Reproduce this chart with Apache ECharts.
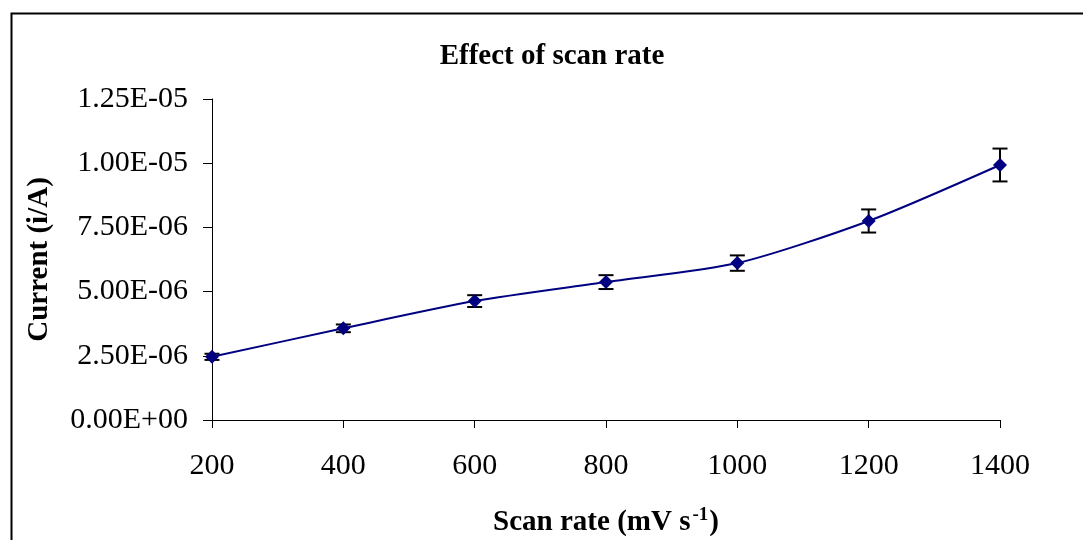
<!DOCTYPE html>
<html>
<head>
<meta charset="utf-8">
<title>Effect of scan rate</title>
<script src="https://cdn.jsdelivr.net/npm/echarts@6/dist/echarts.min.js"></script>
<style>
  html, body { margin: 0; padding: 0; background: #fff; }
  #chart { width: 1083px; height: 540px; }
</style>
</head>
<body>
<div id="chart"></div>
<script>
// Scan rate (mV s^-1) against peak current (A) with standard deviation
const scanRates = [200, 400, 600, 800, 1000, 1200, 1400];
const currents = [2.46e-6, 3.57e-6, 4.63e-6, 5.37e-6, 6.11e-6, 7.75e-6, 9.93e-6];
const errors = [0.12e-6, 0.15e-6, 0.23e-6, 0.27e-6, 0.30e-6, 0.45e-6, 0.64e-6];

const FONT = '"Liberation Serif", "Times New Roman", serif';
const NAVY = '#000080';

// Excel-style scientific label, e.g. 1.25E-05
function sciLabel(v) {
  if (Math.abs(v) < 1e-15) return '0.00E+00';
  const parts = v.toExponential(2).split('e');
  const exp = parseInt(parts[1], 10);
  const sign = exp < 0 ? '-' : '+';
  const mag = String(Math.abs(exp)).padStart(2, '0');
  return parts[0] + 'E' + sign + mag;
}

const chart = echarts.init(document.getElementById('chart'));

const errorData = scanRates.map((x, i) => [x, currents[i], errors[i]]);
const lineData = scanRates.map((x, i) => [x, currents[i]]);

chart.setOption({
  animation: false,
  backgroundColor: '#fff',
  textStyle: { fontFamily: FONT },
  graphic: [
    {
      type: 'rect',
      left: 9, top: 11,
      shape: { width: 1200, height: 700 },
      style: { fill: 'none', stroke: '#000', lineWidth: 2 },
      silent: true
    },
    {
      type: 'text',
      x: 552, y: 42,
      style: {
        text: 'Effect of scan rate',
        font: 'bold 29px ' + FONT,
        fill: '#000',
        textAlign: 'center',
        textVerticalAlign: 'top'
      }
    }
  ],
  grid: { left: 212, right: 83, top: 99, bottom: 120, containLabel: false, outerBoundsMode: 'none' },
  xAxis: {
    type: 'value',
    min: 200, max: 1400, interval: 200,
    name: '{b|Scan rate (mV s}{sup|-1}{b|)}',
    nameLocation: 'middle',
    nameGap: 86,
    nameTextStyle: {
      rich: {
        b: { fontFamily: FONT, fontWeight: 'bold', fontSize: 29, color: '#000', lineHeight: 34 },
        sup: { fontFamily: FONT, fontWeight: 'bold', fontSize: 19, color: '#000', lineHeight: 34, verticalAlign: 'top', padding: [0, 1, 0, 2] }
      }
    },
    axisLine: { show: true, lineStyle: { color: '#000', width: 1 } },
    axisTick: { show: true, inside: false, length: 8, lineStyle: { color: '#000' } },
    axisLabel: { color: '#000', fontSize: 30, fontFamily: FONT, margin: 31, formatter: v => String(v) },
    splitLine: { show: false }
  },
  yAxis: {
    type: 'value',
    min: 0, max: 1.25e-5, interval: 2.5e-6,
    name: 'Current (i/A)',
    nameLocation: 'middle',
    nameGap: 158,
    nameTextStyle: { color: '#000', fontSize: 29, fontWeight: 'bold', fontFamily: FONT },
    axisLine: { show: true, lineStyle: { color: '#000', width: 1 } },
    axisTick: { show: true, inside: false, length: 9, lineStyle: { color: '#000' } },
    axisLabel: { color: '#000', fontSize: 30, fontFamily: FONT, margin: 24, formatter: sciLabel },
    splitLine: { show: false }
  },
  series: [
    {
      type: 'custom',
      name: 'error',
      data: errorData,
      encode: { x: 0, y: 1 },
      z: 2,
      renderItem: function (params, api) {
        const x = api.value(0), y = api.value(1), e = api.value(2);
        const top = api.coord([x, y + e]);
        const bot = api.coord([x, y - e]);
        const hw = 7.5;
        const st = { stroke: '#000', lineWidth: 2 };
        return {
          type: 'group',
          children: [
            { type: 'line', shape: { x1: top[0], y1: top[1], x2: bot[0], y2: bot[1] }, style: st },
            { type: 'line', shape: { x1: top[0] - hw, y1: top[1], x2: top[0] + hw, y2: top[1] }, style: st },
            { type: 'line', shape: { x1: bot[0] - hw, y1: bot[1], x2: bot[0] + hw, y2: bot[1] }, style: st }
          ]
        };
      }
    },
    {
      type: 'line',
      name: 'Current',
      data: lineData,
      smooth: 0.25,
      z: 3,
      symbol: 'diamond',
      symbolSize: 14,
      itemStyle: { color: NAVY },
      lineStyle: { color: NAVY, width: 2 }
    }
  ]
});
</script>
</body>
</html>
